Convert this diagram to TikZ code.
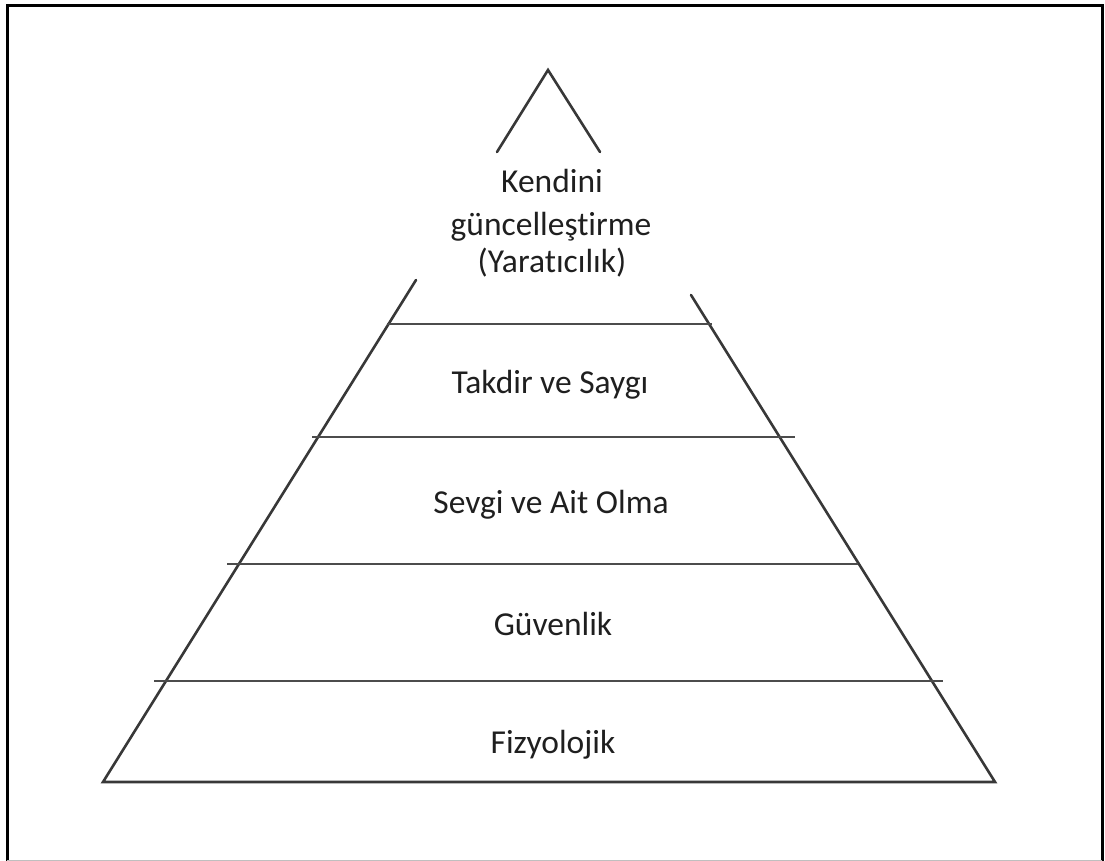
\documentclass[tikz,border=0pt]{standalone}
\usepackage{fontspec}
\setmainfont{Carlito}[Ligatures={NoCommon,TeX}]
\begin{document}
\begin{tikzpicture}[x=1pt,y=-1pt,
  side/.style={draw=black!78, line width=2.6pt, line cap=round, line join=miter},
  level/.style={draw=black!70, line width=2pt},
  frameline/.style={draw=black, line width=3pt},
  lbl/.style={anchor=base, inner sep=0pt, text=black!88, font=\fontsize{33.5}{40}\selectfont}]
\useasboundingbox (0,0) rectangle (1105,861);
% frame
\draw[frameline] (7,861) -- (7,6) -- (1102,6) -- (1102,861);
\draw[draw=black!25, line width=1pt] (7,860) -- (1102,860);
% pyramid corners
\coordinate (apex) at (548,70);
\coordinate (bl) at (103,782);
\coordinate (br) at (995,782);
\coordinate (la) at (497,152);
\coordinate (ra) at (600,152);
\coordinate (lb) at (416,280);
\coordinate (rb) at (691,295);
% top cap
\draw[side] (la) -- (apex) -- (ra);
% sides and base
\draw[side] (lb) -- (bl) -- (br) -- (rb);
% level separators
\coordinate (h1l) at (387,324); \coordinate (h1r) at (712,324);
\coordinate (h2l) at (312,437); \coordinate (h2r) at (795,437);
\coordinate (h3l) at (227,564); \coordinate (h3r) at (858,564);
\coordinate (h4l) at (154,681); \coordinate (h4r) at (943,681);
\draw[level] (h1l) -- (h1r);
\draw[level] (h2l) -- (h2r);
\draw[level] (h3l) -- (h3r);
\draw[level] (h4l) -- (h4r);
% labels
\node[lbl] (t1) at (552,193) {Kendini};
\node[lbl] (t2) at (551,235) {güncelleştirme};
\node[lbl] (t3) at (552,272) {(Yaratıcılık)};
\node[lbl] (t4) at (550,393) {Takdir ve Saygı};
\node[lbl] (t5) at (551,513) {Sevgi ve Ait Olma};
\node[lbl] (t6) at (553,635) {Güvenlik};
\node[lbl] (t7) at (553,753) {Fizyolojik};
\end{tikzpicture}
\end{document}
